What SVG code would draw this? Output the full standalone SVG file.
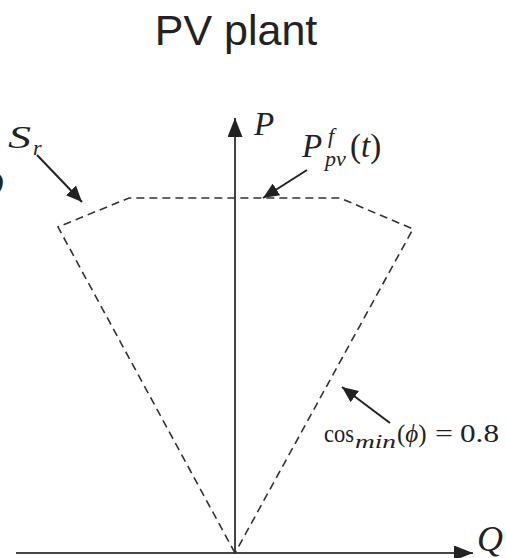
<svg xmlns="http://www.w3.org/2000/svg" width="506" height="558" viewBox="0 0 506 558">
<style>
.axis{stroke:#444;stroke-width:2;fill:none}
.dash{stroke:#333;stroke-width:1.6;fill:none;stroke-dasharray:8 5}
.ptr{stroke:#222;stroke-width:2;fill:none}
.m{font-family:"Liberation Serif","DejaVu Serif",serif;font-style:italic;fill:#222}
.r{font-family:"Liberation Serif","DejaVu Serif",serif;font-style:normal;fill:#222}
.title{font-family:"Liberation Sans",Arial,sans-serif;font-size:43px;fill:#222}
</style>
<defs>
<marker id="axh" markerWidth="19" markerHeight="15" refX="19" refY="7.5" orient="auto" markerUnits="userSpaceOnUse" viewBox="0 0 19 15">
<path d="M0,0 L19,7.5 L0,15 Z" fill="#222"/>
</marker>
<marker id="ptrh" markerWidth="16" markerHeight="14" refX="16" refY="7" orient="auto" markerUnits="userSpaceOnUse" viewBox="0 0 16 14">
<path d="M0,0 L16,7 L0,14 Z" fill="#222"/>
</marker>
</defs>
<g id="title"><text class="title" x="236" y="45" text-anchor="middle">PV plant</text></g>
<g id="connectors">
<line id="p-axis" class="axis" x1="235" y1="553" x2="235" y2="118" marker-end="url(#axh)"/>
<line id="q-axis" class="axis" x1="16" y1="553" x2="473" y2="553" marker-end="url(#axh)"/>
<polyline id="region" class="dash" points="235,553 58,227 129,198 340,198 413,229 235,553"/>
<line class="ptr" x1="37" y1="155" x2="82" y2="202" marker-end="url(#ptrh)"/>
<line class="ptr" x1="307" y1="170" x2="263" y2="198" marker-end="url(#ptrh)"/>
<line class="ptr" x1="390" y1="423" x2="342" y2="387" marker-end="url(#ptrh)"/>
</g>
<g id="label-P"><text class="m" x="254" y="135" font-size="33">P</text></g>
<g id="label-Q"><text class="m" x="477" y="551" font-size="36">Q</text></g>
<g id="label-Qleft"><text class="m" x="-24" y="197" font-size="38">Q</text></g>
<g id="label-Sr"><text class="m" x="8" y="148" font-size="32" textLength="23" lengthAdjust="spacingAndGlyphs">S</text><text class="m" x="33" y="155" font-size="22">r</text></g>
<g id="label-Ppv"><text class="m" x="302" y="157" font-size="33">P</text><text class="m" x="328" y="143" font-size="22">f</text><text class="m" x="325" y="166" font-size="22">pv</text><text class="r" x="350" y="157" font-size="33">(<tspan class="m">t</tspan>)</text></g>
<g id="label-cos"><text class="r" x="324" y="442" font-size="25" textLength="30" lengthAdjust="spacingAndGlyphs">cos</text><text class="m" x="355" y="448" font-size="19" textLength="41" lengthAdjust="spacingAndGlyphs">min</text><text class="r" x="397" y="442" font-size="25">(<tspan class="m">ϕ</tspan>)</text><text class="r" x="435" y="442" font-size="25" textLength="18" lengthAdjust="spacingAndGlyphs">=</text><text class="r" x="460" y="442" font-size="25" textLength="39" lengthAdjust="spacingAndGlyphs">0.8</text></g>
</svg>
